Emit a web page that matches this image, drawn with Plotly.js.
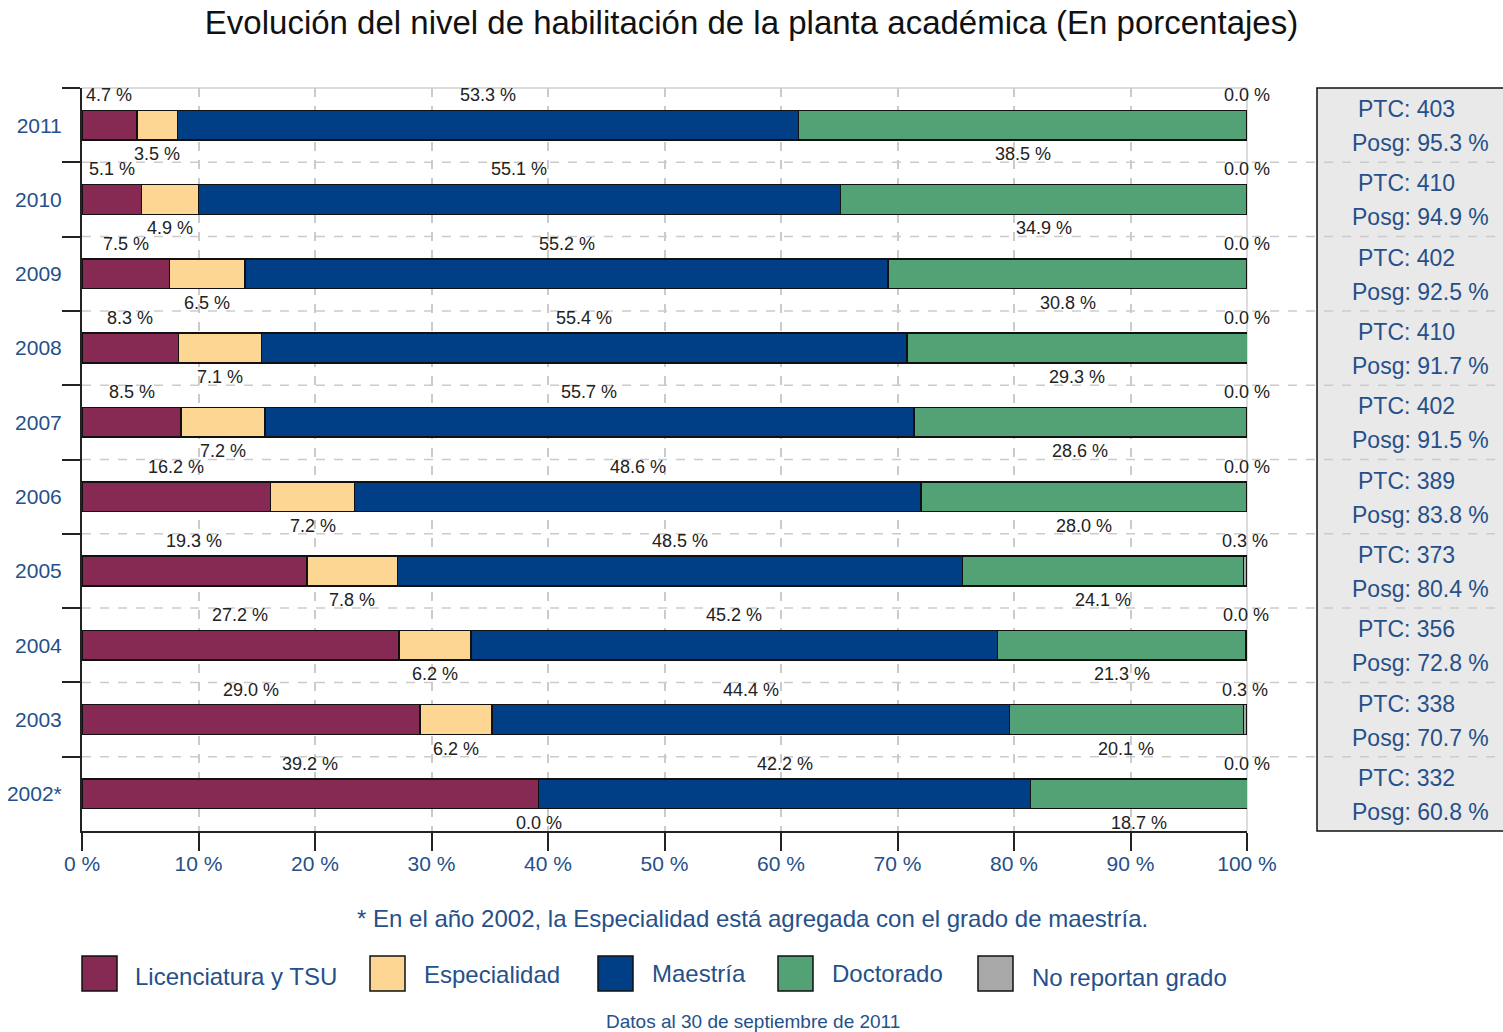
<!DOCTYPE html>
<html><head><meta charset="utf-8">
<script src="https://cdn.plot.ly/plotly-3.0.1.min.js"></script>
<style>body{margin:0;background:#fff;} #chart{width:1503px;height:1032px;}</style>
</head><body><div id="chart"></div>
<script>
const years = ['2011','2010','2009','2008','2007','2006','2005','2004','2003','2002*'];
const licenciatura = [4.7,5.1,7.5,8.3,8.5,16.2,19.3,27.2,29.0,39.2];
const especialidad = [3.5,4.9,6.5,7.1,7.2,7.2,7.8,6.2,6.2,0.0];
const maestria     = [53.3,55.1,55.2,55.4,55.7,48.6,48.5,45.2,44.4,42.2];
const doctorado    = [38.5,34.9,30.8,29.3,28.6,28.0,24.1,21.3,20.1,18.7];
const noReportan   = [0.0,0.0,0.0,0.0,0.0,0.0,0.3,0.0,0.3,0.0];
const ptc      = [403,410,402,410,402,389,373,356,338,332];
const posgrado = [95.3,94.9,92.5,91.7,91.5,83.8,80.4,72.8,70.7,60.8];
const seriesNames = ['Licenciatura y TSU','Especialidad','Maestría','Doctorado','No reportan grado'];
const xTickVals = [0,10,20,30,40,50,60,70,80,90,100];
const titleText = 'Evolución del nivel de habilitación de la planta académica (En porcentajes)';
const noteText = '* En el año 2002, la Especialidad está agregada con el grado de maestría.';
const sourceText = 'Datos al 30 de septiembre de 2011';

const series = [licenciatura, especialidad, maestria, doctorado, noReportan];
const colors = ['#862a53','#fed694','#003f85','#52a276','#a8a8a8'];
const above = [true,false,true,false,true];
const blue = '#25508a';
const FONT = 'Liberation Sans, Arial, sans-serif';

// plot area geometry helpers (pixels -> paper)
const L = 82, R = 256, T = 88, B = 201, W = 1503, H = 1032;
const PW = W - L - R, PH = H - T - B;
const px = p => (p - L) / PW;
const py = p => (H - B - p) / PH;

const traces = series.map((vals, k) => ({
  type: 'bar', orientation: 'h', name: seriesNames[k],
  x: vals, y: years, width: 0.4,
  marker: {color: colors[k], line: {color: '#111', width: 1.5}},
  hoverinfo: 'x+name', showlegend: false
}));

const annotations = [];
years.forEach((yr, i) => {
  let cum = 0;
  series.forEach((vals, k) => {
    const v = vals[i];
    annotations.push({
      x: Math.min(cum + v / 2, 100), y: i, xref: 'x', yref: 'y',
      text: v.toFixed(1) + ' %', showarrow: false,
      yshift: above[k] ? 30 : -29,
      font: {family: FONT, size: 18, color: '#222'}
    });
    cum += v;
  });
  annotations.push({
    x: px(1356), y: i, xref: 'paper', yref: 'y', xanchor: 'left',
    text: 'PTC: ' + ptc[i], showarrow: false, yshift: 16,
    font: {family: FONT, size: 23, color: blue}
  });
  annotations.push({
    x: px(1350), y: i, xref: 'paper', yref: 'y', xanchor: 'left',
    text: 'Posg: ' + posgrado[i].toFixed(1) + ' %', showarrow: false, yshift: -18,
    font: {family: FONT, size: 23, color: blue}
  });
});

const shapes = [];
// right info box
shapes.push({type: 'rect', xref: 'paper', yref: 'paper', x0: px(1317), x1: px(1510), y0: 0, y1: 1,
  fillcolor: '#e9e9e9', line: {color: '#111', width: 1.5}, layer: 'below'});
// dashed category boundaries, extending through the info box
for (let i = 0; i < years.length - 1; i++) {
  shapes.push({type: 'line', xref: 'paper', yref: 'y', x0: 0, x1: px(1510), y0: i + 0.5, y1: i + 0.5,
    line: {color: '#cbcbcb', width: 1.5, dash: 'dash'}, layer: 'below'});
}
// top and right light borders of the plot
shapes.push({type: 'line', xref: 'paper', yref: 'paper', x0: 0, x1: 1, y0: 1, y1: 1,
  line: {color: '#d0d0d0', width: 1.5}, layer: 'below'});
shapes.push({type: 'line', xref: 'paper', yref: 'paper', x0: 1, x1: 1, y0: 0, y1: 1,
  line: {color: '#d0d0d0', width: 1.5}, layer: 'below'});

// custom legend
const legBoxX = [82, 370, 598, 778, 978];
const legTextX = [133, 422, 650, 830, 1030];
const legTextY = [976, 975, 973, 973, 977];
seriesNames.forEach((nm, k) => {
  shapes.push({type: 'rect', xref: 'paper', yref: 'paper',
    x0: px(legBoxX[k]), x1: px(legBoxX[k] + 35), y0: py(991), y1: py(956),
    fillcolor: colors[k], line: {color: '#111', width: 1.5}});
  annotations.push({x: px(legTextX[k]), y: py(legTextY[k]), xref: 'paper', yref: 'paper',
    xanchor: 'left', yanchor: 'middle', text: nm, showarrow: false,
    font: {family: FONT, size: 24, color: blue}});
});
annotations.push({x: px(752), y: py(918), xref: 'paper', yref: 'paper', xanchor: 'center', yanchor: 'middle',
  text: noteText, showarrow: false, font: {family: FONT, size: 24, color: blue}});
annotations.push({x: px(753), y: py(1021), xref: 'paper', yref: 'paper', xanchor: 'center', yanchor: 'middle',
  text: sourceText, showarrow: false, font: {family: FONT, size: 19, color: blue}});

const layout = {
  width: W, height: H, autosize: false,
  margin: {l: L, r: R, t: T, b: B, pad: 0},
  paper_bgcolor: '#fff', plot_bgcolor: 'rgba(0,0,0,0)',
  barmode: 'stack', showlegend: false,
  font: {family: FONT},
  title: {text: titleText, x: 0.5, xanchor: 'center', xref: 'container', y: 1 - 22 / H, yanchor: 'middle',
    font: {family: FONT, size: 33, color: '#111'}},
  xaxis: {range: [0, 100], tickvals: xTickVals, ticktext: xTickVals.map(v => v + ' %'),
    ticks: 'outside', ticklen: 18, tickwidth: 2, tickcolor: '#222', ticklabelstandoff: -5,
    showline: true, linecolor: '#222', linewidth: 2, zeroline: false,
    showgrid: true, gridcolor: '#cbcbcb', gridwidth: 1.5, griddash: 'dash',
    tickfont: {family: FONT, size: 21, color: blue}, fixedrange: true},
  yaxis: {type: 'category', categoryorder: 'array', categoryarray: years,
    range: [years.length - 0.5, -0.5],
    tickson: 'boundaries', ticks: 'outside', ticklen: 18, tickwidth: 2, tickcolor: '#222',
    ticklabelstandoff: 14,
    showline: true, linecolor: '#222', linewidth: 2, showgrid: false, zeroline: false,
    tickfont: {family: FONT, size: 21, color: blue}, fixedrange: true},
  annotations: annotations, shapes: shapes
};

Plotly.newPlot('chart', traces, layout, {displayModeBar: false, responsive: false});
</script>
</body></html>
